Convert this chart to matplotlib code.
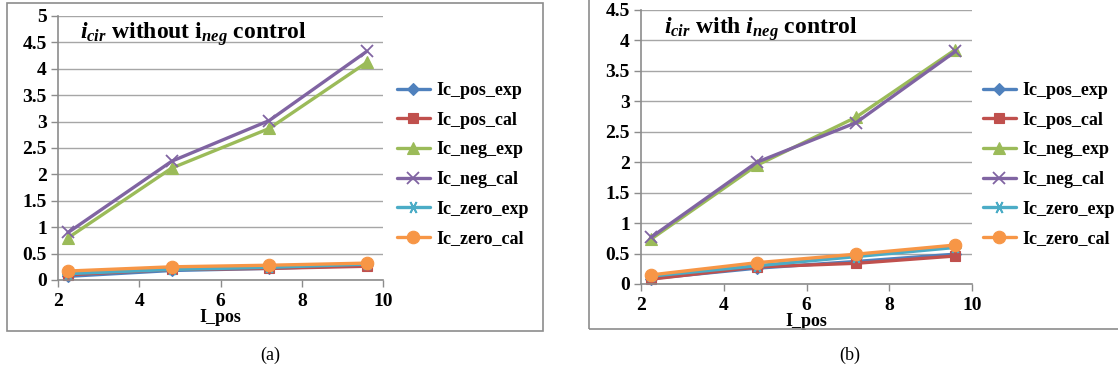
import matplotlib
matplotlib.use("Agg")
import matplotlib.pyplot as plt
from matplotlib.patches import Rectangle

plt.rcParams['font.family'] = ['Liberation Serif', 'DejaVu Serif']
plt.rcParams['mathtext.fontset'] = 'custom'
plt.rcParams['mathtext.rm'] = 'Liberation Serif:bold'
plt.rcParams['mathtext.it'] = 'Liberation Serif:italic:bold'
plt.rcParams['mathtext.bf'] = 'Liberation Serif:bold'
plt.rcParams['mathtext.bfit'] = 'Liberation Serif:italic:bold'

# Positive-sequence current (x axis)
i_pos = [2.25, 4.8, 7.2, 9.6]

series_names = ["Ic_pos_exp", "Ic_pos_cal", "Ic_neg_exp",
                "Ic_neg_cal", "Ic_zero_exp", "Ic_zero_cal"]

# (a) circulating current without negative-sequence control
a_pos_exp = [0.07, 0.18, 0.22, 0.28]
a_pos_cal = [0.10, 0.20, 0.22, 0.26]
a_neg_exp = [0.80, 2.12, 2.87, 4.12]
a_neg_cal = [0.90, 2.25, 3.02, 4.33]
a_zero_exp = [0.12, 0.20, 0.24, 0.30]
a_zero_cal = [0.17, 0.25, 0.28, 0.32]

# (b) circulating current with negative-sequence control
b_pos_exp = [0.09, 0.26, 0.37, 0.49]
b_pos_cal = [0.08, 0.28, 0.34, 0.46]
b_neg_exp = [0.74, 1.95, 2.74, 3.85]
b_neg_cal = [0.77, 2.00, 2.65, 3.82]
b_zero_exp = [0.13, 0.30, 0.45, 0.60]
b_zero_cal = [0.15, 0.35, 0.49, 0.64]

colors = ["#4F81BD", "#C0504D", "#9BBB59", "#8064A2", "#4BACC6", "#F79646"]
markers = ["D", "s", "^", "x", (6, 2, 90), "o"]
msizes = [6, 7, 8, 9, 9, 9]

W, H = 1118, 375
fig = plt.figure(figsize=(W / 100, H / 100), dpi=100)


def frac_rect(x0, y0, x1, y1):
    return [x0 / W, 1 - y1 / H, (x1 - x0) / W, (y1 - y0) / H]


def panel(rect, data, ymax, ystep, title, legend_x, caption, caption_x, frame):
    fx0, fy0, fx1, fy1 = frame
    fig.patches.append(Rectangle((fx0 / W, 1 - fy1 / H), (fx1 - fx0) / W,
                                 (fy1 - fy0) / H, transform=fig.transFigure,
                                 fill=False, edgecolor="#8c8c8c", lw=1.2))
    ax = fig.add_axes(frac_rect(*rect))
    handles = []
    for vals, name, c, m, ms in zip(data, series_names, colors, markers, msizes):
        thin = m == "x" or isinstance(m, tuple)
        h, = ax.plot(i_pos, vals, color=c, lw=2.4, marker=m, markersize=ms,
                     markeredgewidth=1.3 if thin else 0.8,
                     markeredgecolor=c, markerfacecolor=c, label=name,
                     solid_capstyle="round", clip_on=False)
        handles.append(h)
    ax.set_xlim(2, 10)
    ax.set_ylim(0, ymax)
    ax.set_xticks([2, 4, 6, 8, 10])
    yt = [round(i * ystep, 2) for i in range(int(round(ymax / ystep)) + 1)]
    ax.set_yticks(yt)
    ax.set_yticklabels([("%g" % v) for v in yt])
    ax.grid(axis="y", color="#a6a6a6", lw=1)
    ax.set_axisbelow(True)
    for s in ("top", "right"):
        ax.spines[s].set_visible(False)
    for s in ("left", "bottom"):
        ax.spines[s].set_color("#8c8c8c")
        ax.spines[s].set_linewidth(1.2)
    ax.tick_params(axis="both", direction="out", length=5, width=1,
                   color="#8c8c8c", labelsize=14, pad=3)
    for lab in ax.get_xticklabels() + ax.get_yticklabels():
        lab.set_fontweight("bold")
    ax.tick_params(axis="x", pad=4)
    ax.set_xlabel("I_pos", fontsize=13, fontweight="bold", labelpad=0)
    ax.text(0.068, 0.93, title, transform=ax.transAxes, fontsize=17,
            fontweight="bold", va="center", ha="left")
    fig.legend(handles=handles, loc="upper left",
               bbox_to_anchor=(legend_x / W, 1 - 82 / H), frameon=False,
               prop={"family": "Liberation Serif", "weight": "bold", "size": 13},
               handlelength=1.8, handletextpad=0.4, labelspacing=0.7,
               borderaxespad=0, borderpad=0)
    fig.text(caption_x / W, 1 - 355 / H, caption, fontsize=13,
             ha="center", va="center")
    return ax


panel((58, 16, 383, 280),
      [a_pos_exp, a_pos_cal, a_neg_exp, a_neg_cal, a_zero_exp, a_zero_cal],
      5, 0.5,
      r"$\mathit{i}_{\mathit{cir}}$ without i$_{\mathit{neg}}$ control",
      397, "(a)", 270, (7, 3, 543, 331))

panel((641, 10, 972, 284),
      [b_pos_exp, b_pos_cal, b_neg_exp, b_neg_cal, b_zero_exp, b_zero_cal],
      4.5, 0.5,
      r"$\mathit{i}_{\mathit{cir}}$ with $\mathit{i}_{\mathit{neg}}$ control",
      983, "(b)", 850, (589, -5, 1130, 329))

fig.savefig("out.png", dpi=100)
